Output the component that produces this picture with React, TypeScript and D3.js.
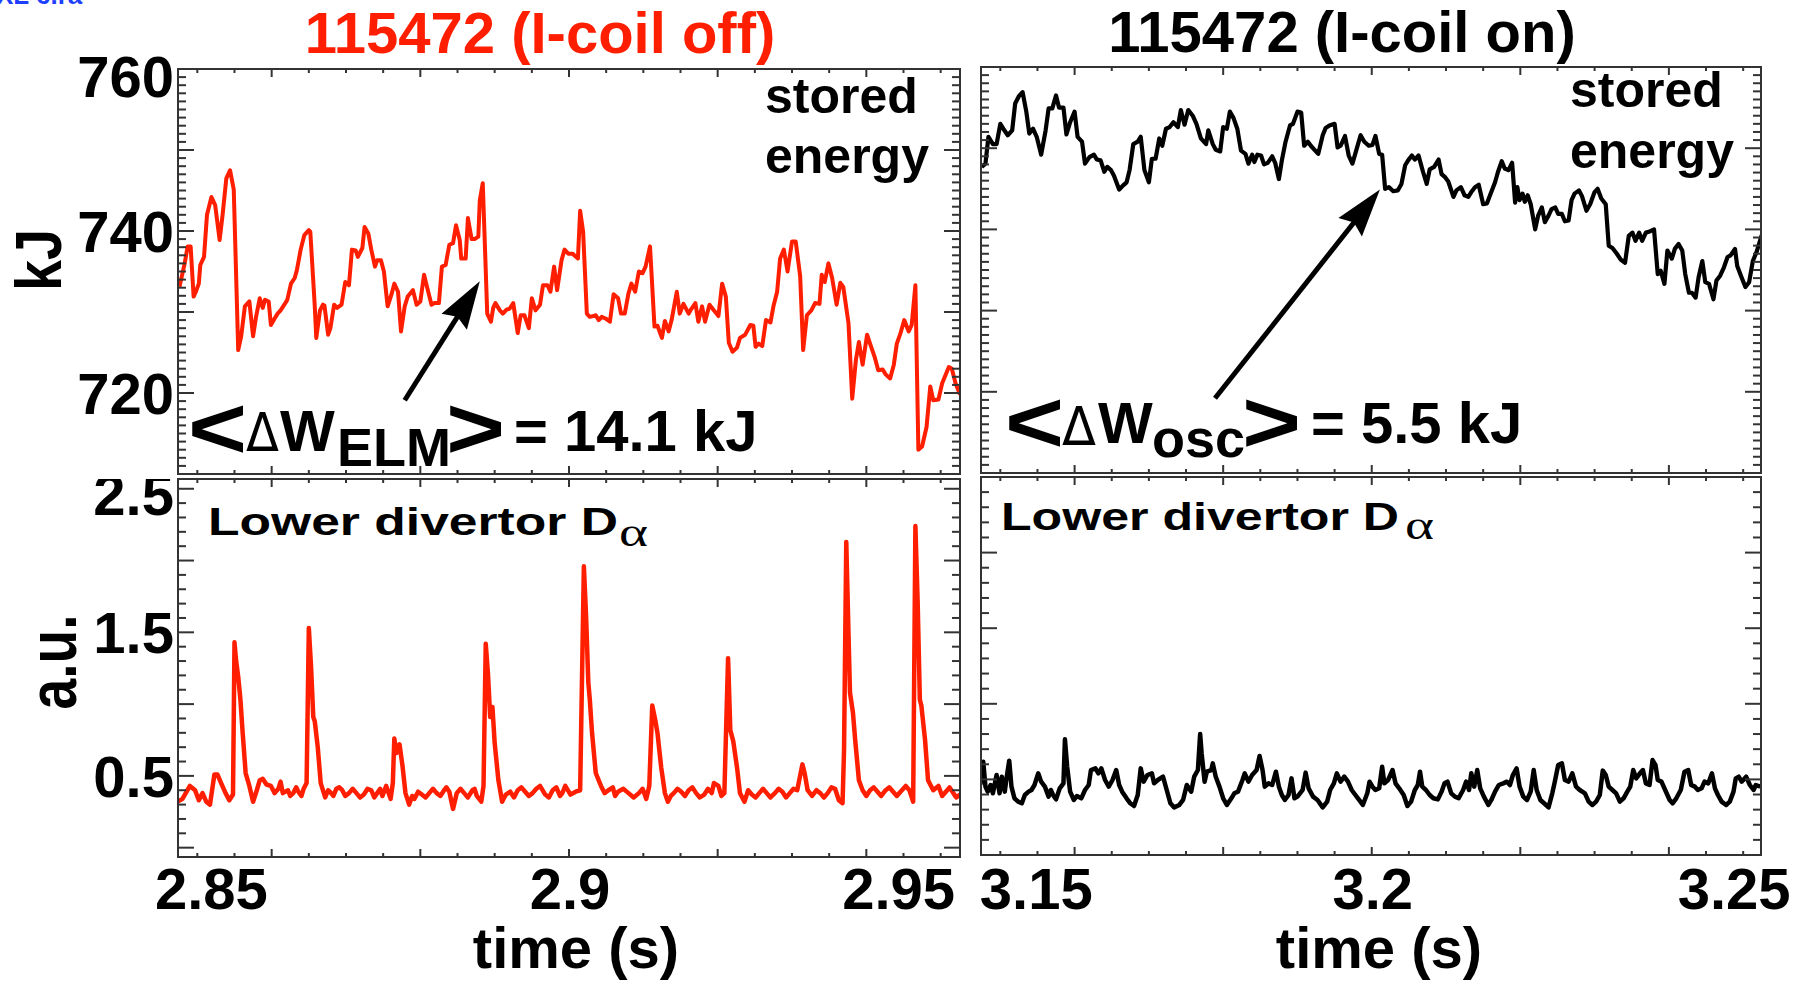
import React, { useEffect } from "react";
import * as d3 from "d3";

type Pt = [number, number];

const FONT = "'Liberation Sans', Arial, Helvetica, sans-serif";
const RED = "#ff1e00";

// stored energy, I-coil off: [time (ms), kJ]
const energyOff: Pt[] = [
  [2847.6, 733.1], [2848.3, 736.0], [2848.7, 738.1], [2849.1, 738.1], [2849.5, 731.9], [2849.8, 732.5],
  [2850.2, 733.5], [2850.4, 735.8], [2850.9, 736.8], [2851.3, 742.0], [2851.9, 744.2], [2852.4, 743.2],
  [2853.0, 738.9], [2853.4, 742.0], [2853.9, 746.5], [2854.4, 747.5], [2854.9, 745.1], [2855.5, 725.3],
  [2855.9, 727.0], [2856.4, 730.7], [2857.0, 731.3], [2857.5, 727.0], [2857.9, 729.4], [2858.4, 731.7],
  [2858.8, 730.5], [2859.1, 731.5], [2859.6, 731.3], [2859.9, 728.4], [2860.4, 729.2], [2860.8, 729.8],
  [2861.2, 730.2], [2861.7, 730.9], [2862.1, 731.5], [2862.6, 733.5], [2863.1, 734.2], [2863.4, 735.2],
  [2863.9, 737.7], [2864.4, 739.5], [2865.0, 740.1], [2865.2, 739.9], [2865.8, 730.7], [2866.0, 726.8],
  [2866.5, 730.2], [2866.9, 730.9], [2867.1, 730.8], [2867.6, 727.2], [2867.9, 728.0], [2868.4, 730.9],
  [2868.8, 730.5], [2869.4, 730.9], [2869.9, 733.7], [2870.4, 733.3], [2870.8, 737.7], [2871.3, 737.6],
  [2871.6, 736.8], [2872.2, 737.9], [2872.5, 740.5], [2873.0, 739.7], [2873.4, 737.7], [2873.9, 735.6],
  [2874.2, 736.4], [2874.7, 736.4], [2875.1, 735.0], [2875.6, 730.7], [2876.1, 732.1], [2876.5, 733.5],
  [2877.0, 732.5], [2877.4, 727.6], [2877.9, 730.7], [2878.3, 731.9], [2879.0, 732.7], [2879.5, 730.9],
  [2880.0, 731.3], [2880.5, 734.6], [2880.9, 733.1], [2881.5, 730.9], [2881.9, 731.1], [2882.5, 731.1],
  [2882.9, 735.6], [2883.4, 735.8], [2883.9, 738.3], [2884.4, 738.5], [2884.8, 740.7], [2885.3, 738.9],
  [2885.5, 736.6], [2886.1, 736.6], [2886.4, 741.6], [2886.9, 739.0], [2887.3, 739.0], [2887.8, 739.3],
  [2888.0, 743.8], [2888.4, 745.9], [2889.0, 729.8], [2889.5, 728.8], [2889.8, 730.5], [2890.1, 731.1],
  [2890.7, 730.2], [2891.1, 729.8], [2891.6, 730.3], [2892.0, 730.4], [2892.5, 731.1], [2893.1, 727.4],
  [2893.5, 729.6], [2894.0, 729.6], [2894.6, 728.0], [2895.0, 731.7], [2895.5, 730.2], [2896.1, 730.9],
  [2896.5, 733.3], [2897.1, 733.3], [2897.5, 732.5], [2898.0, 735.6], [2898.4, 732.7], [2899.0, 736.4],
  [2899.4, 737.7], [2899.9, 737.2], [2900.5, 737.2], [2900.7, 737.0], [2901.2, 736.6], [2901.5, 742.5],
  [2901.9, 739.9], [2902.4, 729.8], [2902.8, 729.4], [2903.3, 729.5], [2903.6, 729.6], [2904.0, 729.0],
  [2904.4, 729.4], [2904.9, 729.2], [2905.5, 728.8], [2906.0, 732.2], [2906.6, 731.7], [2907.0, 729.8],
  [2907.5, 729.8], [2908.0, 732.3], [2908.4, 733.5], [2908.9, 732.5], [2909.4, 735.0], [2909.9, 734.8],
  [2910.3, 735.6], [2910.9, 738.1], [2911.5, 728.2], [2911.9, 728.3], [2912.5, 726.8], [2912.9, 728.9],
  [2913.4, 727.6], [2913.8, 729.0], [2914.5, 732.5], [2914.9, 729.8], [2915.4, 731.0], [2916.1, 729.8],
  [2916.4, 730.3], [2917.0, 731.1], [2917.4, 728.8], [2917.9, 730.7], [2918.3, 728.8], [2918.9, 730.9],
  [2919.4, 730.3], [2920.1, 729.5], [2920.6, 733.5], [2921.1, 731.9], [2921.5, 726.2], [2922.0, 725.1],
  [2922.6, 725.6], [2923.0, 726.8], [2923.7, 727.2], [2924.4, 728.4], [2924.8, 728.3], [2925.1, 725.7],
  [2925.5, 726.1], [2926.0, 725.8], [2926.5, 729.0], [2927.1, 728.7], [2927.5, 730.7], [2928.0, 732.5],
  [2928.4, 736.6], [2928.9, 737.7], [2929.4, 735.0], [2930.0, 738.7], [2930.5, 738.7], [2931.1, 734.4],
  [2931.5, 725.3], [2932.0, 729.6], [2932.6, 730.2], [2933.1, 731.1], [2933.7, 731.0], [2934.0, 734.6],
  [2934.4, 733.7], [2934.9, 736.0], [2935.4, 734.2], [2936.0, 730.9], [2936.5, 733.6], [2936.9, 733.1],
  [2937.6, 728.6], [2938.1, 719.3], [2938.6, 724.1], [2939.0, 726.3], [2939.5, 723.5], [2940.1, 727.2],
  [2940.5, 726.1], [2941.1, 724.5], [2941.6, 722.8], [2942.2, 722.9], [2942.6, 722.3], [2943.2, 721.8],
  [2943.7, 723.5], [2944.1, 726.1], [2944.6, 727.4], [2945.1, 729.0], [2945.7, 727.6], [2946.1, 728.4],
  [2946.6, 733.3], [2947.0, 713.0], [2947.5, 713.4], [2948.1, 715.8], [2948.6, 720.8], [2949.0, 719.1],
  [2949.7, 719.2], [2950.2, 721.2], [2951.1, 723.2], [2951.5, 723.0], [2952.0, 721.2], [2952.6, 719.8],
];

// stored energy, I-coil on: [time (ms), kJ]
const energyOn: Pt[] = [
  [3147.5, 747.7], [3148.0, 748.1], [3148.4, 751.4], [3149.0, 750.5], [3149.5, 750.5], [3150.0, 753.0],
  [3150.4, 752.4], [3151.0, 751.6], [3151.6, 752.2], [3152.0, 755.5], [3152.5, 756.4], [3153.0, 756.9],
  [3153.5, 754.5], [3153.9, 751.8], [3154.4, 752.4], [3154.9, 751.4], [3155.5, 749.2], [3156.1, 752.2],
  [3156.5, 754.9], [3157.0, 754.9], [3157.5, 756.5], [3157.9, 755.0], [3158.5, 755.0], [3158.9, 751.7],
  [3159.4, 753.2], [3160.0, 754.5], [3160.4, 751.4], [3161.0, 750.8], [3161.4, 748.1], [3162.0, 748.9],
  [3162.6, 749.2], [3163.0, 748.6], [3163.5, 748.5], [3164.0, 747.1], [3164.4, 747.7], [3164.9, 747.3],
  [3165.3, 746.6], [3166.0, 744.9], [3166.5, 745.4], [3167.0, 745.8], [3167.4, 747.3], [3167.9, 750.5],
  [3168.5, 750.8], [3168.9, 751.4], [3169.4, 747.3], [3170.0, 745.8], [3170.4, 748.7], [3170.9, 748.7],
  [3171.4, 751.2], [3171.8, 750.3], [3172.3, 752.4], [3172.8, 752.6], [3173.3, 753.2], [3173.9, 752.6],
  [3174.3, 754.7], [3174.8, 752.9], [3175.3, 754.7], [3175.9, 754.0], [3176.4, 753.0], [3177.0, 751.2],
  [3177.7, 750.5], [3178.0, 752.2], [3178.6, 750.5], [3179.0, 749.8], [3179.6, 749.6], [3180.0, 752.6],
  [3180.5, 752.4], [3180.9, 754.5], [3181.4, 753.7], [3181.9, 752.4], [3182.4, 749.7], [3183.0, 749.3],
  [3183.4, 748.1], [3183.9, 749.2], [3184.2, 748.3], [3184.6, 749.2], [3185.1, 749.1], [3185.5, 748.0],
  [3186.0, 748.2], [3186.6, 749.0], [3187.0, 748.2], [3187.5, 746.2], [3187.9, 748.5], [3188.4, 750.8],
  [3189.0, 752.8], [3189.4, 753.0], [3190.0, 754.5], [3190.5, 754.4], [3190.9, 750.3], [3191.4, 750.8],
  [3191.8, 750.3], [3192.3, 749.8], [3192.8, 749.3], [3193.4, 751.6], [3193.8, 752.5], [3194.3, 752.8],
  [3195.0, 753.0], [3195.4, 750.1], [3195.8, 750.3], [3196.4, 751.5], [3196.9, 749.1], [3197.4, 748.1],
  [3198.0, 750.0], [3198.5, 751.6], [3199.0, 750.8], [3199.6, 750.3], [3200.1, 750.4], [3200.5, 751.5],
  [3201.0, 749.3], [3201.4, 749.2], [3201.8, 745.0], [3202.3, 745.2], [3202.9, 744.7], [3203.5, 744.8],
  [3204.0, 745.6], [3204.5, 747.9], [3204.9, 748.5], [3205.4, 749.1], [3205.8, 748.6], [3206.3, 749.1],
  [3206.9, 747.1], [3207.4, 745.6], [3207.8, 747.4], [3208.4, 747.7], [3209.0, 748.6], [3209.4, 746.8],
  [3209.9, 746.4], [3210.3, 745.9], [3211.0, 744.0], [3211.4, 744.8], [3212.0, 745.2], [3212.5, 744.2],
  [3213.0, 744.0], [3213.4, 744.6], [3213.9, 745.2], [3214.4, 745.5], [3215.0, 743.1], [3215.5, 743.2],
  [3216.0, 744.4], [3216.6, 745.8], [3217.0, 747.1], [3217.5, 748.4], [3217.9, 747.5], [3218.4, 747.3],
  [3218.9, 748.2], [3219.3, 743.3], [3219.6, 745.2], [3219.9, 743.6], [3220.3, 744.4], [3220.6, 743.4],
  [3221.0, 744.2], [3221.4, 743.1], [3222.0, 740.0], [3222.4, 741.7], [3222.9, 742.7], [3223.3, 740.9],
  [3223.8, 741.7], [3224.2, 742.5], [3224.7, 742.7], [3225.1, 741.9], [3225.6, 741.9], [3226.0, 741.0],
  [3226.5, 741.1], [3226.9, 743.6], [3227.3, 744.4], [3227.9, 744.8], [3228.3, 744.1], [3228.9, 742.3],
  [3229.4, 743.1], [3230.0, 744.6], [3230.4, 745.0], [3230.9, 743.8], [3231.5, 743.1], [3231.9, 738.0],
  [3232.4, 737.7], [3233.0, 737.0], [3233.5, 736.3], [3234.1, 735.9], [3234.6, 739.2], [3235.1, 739.6],
  [3235.5, 738.6], [3236.0, 739.6], [3236.4, 738.6], [3236.9, 739.6], [3237.3, 739.7], [3238.0, 740.0],
  [3238.5, 734.5], [3238.9, 734.9], [3239.4, 733.3], [3239.8, 737.4], [3240.4, 736.4], [3240.8, 737.6],
  [3241.3, 738.2], [3241.8, 737.4], [3242.2, 734.5], [3242.7, 732.2], [3243.1, 732.2], [3243.6, 731.6],
  [3244.0, 734.1], [3244.5, 736.1], [3244.9, 733.5], [3245.4, 733.3], [3246.0, 731.4], [3246.4, 733.7],
  [3246.9, 734.3], [3247.4, 735.3], [3247.9, 736.6], [3248.3, 736.8], [3248.9, 737.6], [3249.2, 735.5],
  [3249.7, 734.3], [3250.3, 732.9], [3250.8, 733.5], [3251.3, 736.1], [3251.8, 737.2], [3252.5, 739.3],
];

// lower divertor D-alpha, I-coil off: [time (ms), a.u.]
const dalphaOff: Pt[] = [
  [2847.3, 0.32], [2848.0, 0.34], [2849.0, 0.43], [2849.7, 0.40], [2850.2, 0.33], [2850.7, 0.38],
  [2851.2, 0.32], [2851.7, 0.30], [2852.3, 0.51], [2852.7, 0.51], [2853.2, 0.45], [2853.8, 0.38],
  [2854.3, 0.33], [2854.8, 0.37], [2855.0, 1.43], [2855.2, 1.31], [2855.5, 1.19], [2855.8, 1.03],
  [2856.1, 0.80], [2856.5, 0.52], [2857.0, 0.43], [2857.5, 0.32], [2858.0, 0.40], [2858.4, 0.47],
  [2858.8, 0.48], [2859.3, 0.44], [2859.9, 0.43], [2860.4, 0.38], [2860.9, 0.41], [2861.2, 0.46],
  [2861.5, 0.38], [2862.2, 0.40], [2862.5, 0.36], [2862.9, 0.38], [2863.3, 0.42], [2863.6, 0.39],
  [2864.0, 0.36], [2864.3, 0.41], [2864.7, 0.45], [2865.0, 1.53], [2865.3, 1.26], [2865.6, 0.91],
  [2865.8, 0.88], [2866.2, 0.70], [2866.6, 0.45], [2867.2, 0.35], [2867.6, 0.40], [2868.0, 0.38],
  [2868.3, 0.36], [2868.7, 0.41], [2869.1, 0.42], [2869.5, 0.40], [2869.9, 0.36], [2870.4, 0.38],
  [2870.9, 0.41], [2871.4, 0.38], [2871.9, 0.35], [2872.4, 0.37], [2872.9, 0.41], [2873.4, 0.40],
  [2873.8, 0.35], [2874.2, 0.38], [2874.6, 0.41], [2874.9, 0.36], [2875.4, 0.43], [2876.0, 0.34],
  [2876.3, 0.45], [2876.5, 0.76], [2876.8, 0.66], [2877.2, 0.72], [2877.6, 0.57], [2878.0, 0.38],
  [2878.5, 0.30], [2878.9, 0.36], [2879.2, 0.34], [2879.7, 0.39], [2880.2, 0.37], [2880.7, 0.35],
  [2881.2, 0.38], [2881.7, 0.41], [2882.2, 0.38], [2882.7, 0.36], [2883.2, 0.40], [2883.5, 0.42],
  [2883.9, 0.39], [2884.4, 0.27], [2884.9, 0.38], [2885.4, 0.41], [2885.9, 0.38], [2886.4, 0.35],
  [2887.0, 0.40], [2887.3, 0.41], [2887.6, 0.36], [2888.2, 0.32], [2888.5, 0.43], [2888.8, 1.42],
  [2889.1, 1.21], [2889.4, 0.91], [2889.7, 0.98], [2890.0, 0.73], [2890.5, 0.47], [2891.0, 0.32],
  [2891.5, 0.37], [2892.1, 0.39], [2892.6, 0.35], [2893.1, 0.40], [2893.6, 0.42], [2894.1, 0.39],
  [2894.6, 0.36], [2895.1, 0.38], [2895.6, 0.41], [2896.1, 0.43], [2896.8, 0.37], [2897.3, 0.35],
  [2897.8, 0.40], [2898.3, 0.42], [2898.8, 0.36], [2899.1, 0.38], [2899.5, 0.43], [2900.2, 0.37],
  [2900.9, 0.39], [2901.5, 0.40], [2902.0, 1.96], [2902.3, 1.61], [2902.6, 1.15], [2902.8, 1.03],
  [2903.1, 0.80], [2903.6, 0.52], [2904.3, 0.43], [2904.8, 0.38], [2905.3, 0.40], [2905.9, 0.42],
  [2906.2, 0.36], [2906.6, 0.39], [2907.3, 0.41], [2908.0, 0.38], [2908.7, 0.35], [2909.4, 0.38],
  [2909.9, 0.41], [2910.4, 0.34], [2910.8, 0.43], [2911.2, 0.99], [2911.6, 0.89], [2911.9, 0.80],
  [2912.4, 0.56], [2912.9, 0.38], [2913.3, 0.32], [2913.7, 0.36], [2914.1, 0.38], [2914.6, 0.41],
  [2915.1, 0.39], [2915.6, 0.36], [2916.1, 0.40], [2916.6, 0.42], [2917.1, 0.38], [2917.6, 0.35],
  [2918.2, 0.37], [2918.7, 0.41], [2919.2, 0.38], [2919.5, 0.45], [2920.1, 0.43], [2920.5, 0.36],
  [2920.9, 0.38], [2921.4, 1.32], [2921.7, 0.82], [2922.1, 0.74], [2922.6, 0.56], [2923.0, 0.38],
  [2923.6, 0.32], [2924.1, 0.40], [2924.6, 0.37], [2925.1, 0.35], [2925.6, 0.38], [2926.1, 0.41],
  [2926.6, 0.38], [2927.1, 0.35], [2927.7, 0.38], [2928.2, 0.41], [2928.7, 0.39], [2929.2, 0.35],
  [2929.7, 0.38], [2930.2, 0.41], [2930.7, 0.40], [2931.4, 0.58], [2931.7, 0.52], [2932.1, 0.40],
  [2932.7, 0.36], [2933.3, 0.40], [2933.8, 0.38], [2934.3, 0.35], [2934.8, 0.38], [2935.3, 0.42],
  [2935.8, 0.41], [2936.3, 0.33], [2936.8, 0.31], [2937.0, 0.68], [2937.3, 2.13], [2937.6, 1.49],
  [2937.8, 1.08], [2938.2, 0.94], [2938.5, 0.75], [2939.0, 0.47], [2939.5, 0.40], [2940.0, 0.36],
  [2940.5, 0.40], [2941.0, 0.42], [2941.5, 0.39], [2942.0, 0.36], [2942.6, 0.40], [2943.1, 0.42],
  [2943.6, 0.39], [2944.1, 0.36], [2944.6, 0.39], [2945.3, 0.43], [2945.8, 0.40], [2946.3, 0.32],
  [2946.6, 2.24], [2946.9, 1.72], [2947.2, 1.03], [2947.4, 0.99], [2947.9, 0.75], [2948.3, 0.47],
  [2949.0, 0.40], [2949.7, 0.43], [2950.2, 0.36], [2950.7, 0.39], [2951.2, 0.42], [2951.7, 0.38],
  [2952.1, 0.35], [2952.6, 0.37],
];

// lower divertor D-alpha, I-coil on: [time (ms), a.u.]
const dalphaOn: Pt[] = [
  [3147.3, 0.463], [3147.7, 0.617], [3148.0, 0.452], [3148.3, 0.419], [3148.7, 0.463], [3149.0, 0.408],
  [3149.5, 0.529], [3149.9, 0.408], [3150.2, 0.518], [3150.6, 0.419], [3150.8, 0.496], [3151.2, 0.624],
  [3151.5, 0.452], [3151.9, 0.375], [3152.4, 0.353], [3152.9, 0.342], [3153.3, 0.397], [3153.8, 0.419],
  [3154.2, 0.430], [3154.6, 0.463], [3155.1, 0.540], [3155.5, 0.485], [3156.0, 0.452], [3156.5, 0.386],
  [3156.8, 0.430], [3157.1, 0.397], [3157.5, 0.368], [3158.0, 0.441], [3158.5, 0.474], [3158.7, 0.765],
  [3159.0, 0.584], [3159.4, 0.419], [3159.9, 0.364], [3160.3, 0.390], [3160.9, 0.375], [3161.4, 0.430],
  [3161.9, 0.463], [3162.2, 0.562], [3162.8, 0.573], [3163.2, 0.540], [3163.6, 0.573], [3164.1, 0.496],
  [3164.6, 0.452], [3165.1, 0.496], [3165.6, 0.562], [3166.0, 0.463], [3166.4, 0.419], [3167.0, 0.375],
  [3167.5, 0.342], [3168.0, 0.324], [3168.5, 0.397], [3168.9, 0.573], [3169.3, 0.485], [3169.8, 0.529],
  [3170.4, 0.540], [3170.7, 0.474], [3171.2, 0.496], [3171.9, 0.518], [3172.4, 0.430], [3172.9, 0.342],
  [3173.4, 0.315], [3174.1, 0.331], [3174.6, 0.364], [3175.1, 0.463], [3175.7, 0.419], [3176.1, 0.518],
  [3176.6, 0.562], [3176.9, 0.800], [3177.1, 0.672], [3177.5, 0.485], [3177.8, 0.551], [3178.4, 0.562],
  [3178.6, 0.606], [3179.0, 0.518], [3179.5, 0.452], [3180.0, 0.375], [3180.5, 0.331], [3181.1, 0.375],
  [3181.5, 0.408], [3182.0, 0.419], [3182.6, 0.496], [3182.9, 0.540], [3183.4, 0.485], [3183.9, 0.529],
  [3184.5, 0.562], [3184.9, 0.655], [3185.3, 0.562], [3185.6, 0.452], [3186.1, 0.474], [3186.6, 0.463],
  [3187.1, 0.551], [3187.5, 0.452], [3187.9, 0.397], [3188.3, 0.364], [3188.8, 0.397], [3189.2, 0.507],
  [3189.6, 0.375], [3190.0, 0.386], [3190.7, 0.430], [3191.1, 0.545], [3191.5, 0.441], [3192.1, 0.386],
  [3192.7, 0.364], [3193.4, 0.315], [3194.0, 0.353], [3194.4, 0.430], [3194.9, 0.474], [3195.3, 0.540],
  [3195.8, 0.485], [3196.3, 0.518], [3196.8, 0.485], [3197.3, 0.430], [3197.8, 0.397], [3198.3, 0.364],
  [3198.8, 0.331], [3199.4, 0.408], [3199.7, 0.485], [3200.1, 0.452], [3200.5, 0.430], [3201.0, 0.441],
  [3201.4, 0.584], [3201.7, 0.474], [3202.2, 0.496], [3202.8, 0.562], [3203.2, 0.474], [3203.7, 0.441],
  [3204.3, 0.397], [3204.8, 0.324], [3205.3, 0.353], [3205.8, 0.430], [3206.2, 0.463], [3206.5, 0.551],
  [3206.8, 0.452], [3207.3, 0.430], [3207.8, 0.397], [3208.3, 0.375], [3208.9, 0.368], [3209.4, 0.419],
  [3209.8, 0.474], [3210.2, 0.485], [3210.7, 0.408], [3211.2, 0.386], [3211.7, 0.375], [3212.3, 0.430],
  [3212.7, 0.485], [3213.1, 0.430], [3213.4, 0.540], [3213.8, 0.452], [3214.2, 0.562], [3214.6, 0.441],
  [3215.1, 0.386], [3215.7, 0.331], [3216.1, 0.364], [3216.6, 0.419], [3217.1, 0.463], [3217.7, 0.474],
  [3218.2, 0.485], [3218.6, 0.463], [3219.0, 0.529], [3219.5, 0.573], [3219.9, 0.452], [3220.4, 0.386],
  [3220.9, 0.364], [3221.4, 0.419], [3221.8, 0.562], [3222.2, 0.430], [3222.7, 0.364], [3223.2, 0.342],
  [3223.8, 0.315], [3224.3, 0.408], [3224.6, 0.474], [3225.1, 0.595], [3225.6, 0.606], [3226.0, 0.496],
  [3226.5, 0.485], [3227.0, 0.540], [3227.5, 0.452], [3228.0, 0.430], [3228.7, 0.408], [3229.2, 0.353],
  [3229.7, 0.331], [3230.2, 0.353], [3230.7, 0.397], [3231.1, 0.558], [3231.5, 0.529], [3231.9, 0.452],
  [3232.4, 0.430], [3232.9, 0.408], [3233.4, 0.353], [3233.9, 0.375], [3234.4, 0.419], [3234.8, 0.452],
  [3235.2, 0.562], [3235.6, 0.507], [3236.1, 0.540], [3236.5, 0.562], [3236.9, 0.474], [3237.4, 0.463],
  [3237.8, 0.628], [3238.2, 0.595], [3238.5, 0.496], [3239.0, 0.485], [3239.5, 0.430], [3240.1, 0.364],
  [3240.5, 0.342], [3241.0, 0.375], [3241.6, 0.430], [3242.1, 0.551], [3242.6, 0.562], [3243.0, 0.463],
  [3243.5, 0.452], [3243.9, 0.430], [3244.4, 0.441], [3244.8, 0.485], [3245.3, 0.474], [3245.8, 0.540],
  [3246.2, 0.441], [3246.6, 0.397], [3247.1, 0.353], [3247.7, 0.331], [3248.2, 0.353], [3248.7, 0.419],
  [3249.0, 0.507], [3249.4, 0.518], [3249.8, 0.485], [3250.4, 0.518], [3250.9, 0.463], [3251.4, 0.430],
  [3251.7, 0.463], [3252.3, 0.452],
];

const timeRangeOff: Pt = [2847.4, 2952.6];
const timeRangeOn: Pt = [3147.4, 3252.4];
const energyRange: Pt = [710, 760];
const dalphaRangeOff: Pt = [-0.065, 2.568];
const dalphaRangeOn: Pt = [0, 2.5];

const energyLabels = [760, 740, 720];
const dalphaLabels = [2.5, 1.5, 0.5];
const timeLabelsOff = [2850, 2900, 2950];
const timeLabelsOn = [3150, 3200, 3250];
// the tick labels in the original were placed by hand, not exactly on the ticks
const timeNudgeOff = [14, 1, -42];
const timeNudgeOn = [36, 1, -9];

// annotation arrows: tail, tip (ms, kJ)
const arrowOff: Pt[] = [[2877.9, 719.1], [2888.0, 733.8]];
const arrowOn: Pt[] = [[3178.9, 719.2], [3201.1, 744.9]];

type Scale = d3.ScaleLinear<number, number>;

function tickList(domain: Pt, step: number, every: number) {
  const i0 = Math.ceil(domain[0] / step - 1e-6);
  const i1 = Math.floor(domain[1] / step + 1e-6);
  return d3.range(i0, i1 + 1).map((i) => ({ v: i * step, major: Math.abs(i) % every === 0 }));
}

function Panel({ id, x, y, data, color, width, yStep, yEvery }: {
  id: string; x: Scale; y: Scale; data: Pt[]; color: string; width: number; yStep: number; yEvery: number;
}) {
  const [x0, x1] = x.range();
  const [y1, y0] = y.range();
  const line = d3.line<Pt>().x((d) => x(d[0])).y((d) => y(d[1]));
  const xt = tickList(x.domain() as Pt, 5, 4);
  const yt = tickList(y.domain() as Pt, yStep, yEvery);
  const tc = "#333";
  return (
    <g>
      <defs>
        <clipPath id={id}>
          <rect x={x0} y={y0} width={x1 - x0} height={y1 - y0} />
        </clipPath>
      </defs>
      <path d={line(data) || ""} fill="none" stroke={color} strokeWidth={width}
        strokeLinejoin="round" clipPath={`url(#${id})`} />
      {xt.map((t, i) => {
        const px = x(t.v);
        const len = t.major ? 8 : 4;
        return (
          <g key={"x" + i} stroke={tc} strokeWidth={2}>
            <line x1={px} x2={px} y1={y1} y2={y1 - len} />
            <line x1={px} x2={px} y1={y0} y2={y0 + len} />
          </g>
        );
      })}
      {yt.map((t, i) => {
        const py = y(t.v);
        const len = t.major ? 16 : 8;
        return (
          <g key={"y" + i} stroke={tc} strokeWidth={2}>
            <line x1={x0} x2={x0 + len} y1={py} y2={py} />
            <line x1={x1} x2={x1 - len} y1={py} y2={py} />
          </g>
        );
      })}
      <rect x={x0} y={y0} width={x1 - x0} height={y1 - y0} fill="none" stroke={tc} strokeWidth={2} />
    </g>
  );
}

function Arrow({ pts, x, y }: { pts: Pt[]; x: Scale; y: Scale }) {
  const ax = x(pts[0][0]), ay = y(pts[0][1]);
  const bx = x(pts[1][0]), by = y(pts[1][1]);
  const len = Math.hypot(bx - ax, by - ay);
  const ux = (bx - ax) / len, uy = (by - ay) / len;
  const head = 48, half = 15;
  const hx = bx - ux * head, hy = by - uy * head;
  const poly = [
    [bx, by],
    [hx - uy * half, hy + ux * half],
    [hx + ux * 6, hy + uy * 6],
    [hx + uy * half, hy - ux * half],
  ].map((p) => p.join(",")).join(" ");
  return (
    <g>
      <line x1={ax} y1={ay} x2={hx + ux * 8} y2={hy + uy * 8} stroke="#000" strokeWidth={5} />
      <polygon points={poly} fill="#000" />
    </g>
  );
}

function YLabels({ y, values, top, pad }: { y: Scale; values: number[]; top: number; pad: number }) {
  return (
    <g fontSize={58} fontWeight="bold" textAnchor="end">
      {values.map((v) => (
        <text key={v} x={174} y={Math.max(y(v), top + pad) + 21}>{String(v)}</text>
      ))}
    </g>
  );
}

function XLabels({ x, values, nudge }: { x: Scale; values: number[]; nudge: number[] }) {
  return (
    <g fontSize={58} fontWeight="bold" textAnchor="middle">
      {values.map((v, i) => (
        <text key={v} x={x(v) + nudge[i]} y={909}>{String(v / 1000)}</text>
      ))}
    </g>
  );
}

export default function App() {
  useEffect(() => {
    document.body.style.margin = "0";
  }, []);

  const xOff = d3.scaleLinear().domain(timeRangeOff).range([178, 960]);
  const xOn = d3.scaleLinear().domain(timeRangeOn).range([981, 1761]);
  const yWOff = d3.scaleLinear().domain(energyRange).range([474, 69]);
  const yWOn = d3.scaleLinear().domain(energyRange).range([473, 67]);
  const yDOff = d3.scaleLinear().domain(dalphaRangeOff).range([857, 479]);
  const yDOn = d3.scaleLinear().domain(dalphaRangeOn).range([855, 477]);

  const deltaFont = "'DejaVu Sans', 'Liberation Sans', sans-serif";

  return (
    <svg width={1810} height={984} style={{ display: "block", background: "#fff" }}
      fontFamily={FONT}>
      <rect width={1810} height={984} fill="#fff" />
      <text x={-4} y={4} fill="#1f3fff" fontSize={26} fontWeight="bold">XL 6.ra</text>

      {/* titles */}
      <text x={540} y={53} fill={RED} fontSize={58} fontWeight="bold" textAnchor="middle">
        115472 (I-coil off)
      </text>
      <text x={1342} y={52} fill="#000" fontSize={58} fontWeight="bold" textAnchor="middle">
        115472 (I-coil on)
      </text>

      <Panel id="c1" x={xOff} y={yWOff} data={energyOff} color={RED} width={4} yStep={1} yEvery={10} />
      <Panel id="c2" x={xOn} y={yWOn} data={energyOn} color="#000" width={4.2} yStep={1} yEvery={10} />
      <Panel id="c3" x={xOff} y={yDOff} data={dalphaOff} color={RED} width={4.5} yStep={0.1} yEvery={5} />
      <Panel id="c4" x={xOn} y={yDOn} data={dalphaOn} color="#000" width={4.5} yStep={0.1} yEvery={5} />

      <YLabels y={yWOff} values={energyLabels} top={69} pad={7} />
      <defs>
        <clipPath id="lab2">
          <rect x={0} y={479} width={178} height={400} />
        </clipPath>
      </defs>
      <g clipPath="url(#lab2)">
        <YLabels y={yDOff} values={dalphaLabels} top={479} pad={15} />
      </g>
      <XLabels x={xOff} values={timeLabelsOff} nudge={timeNudgeOff} />
      <XLabels x={xOn} values={timeLabelsOn} nudge={timeNudgeOn} />

      <g fontSize={58} fontWeight="bold" textAnchor="middle">
        <text x={576} y={968}>time (s)</text>
        <text x={1379} y={968}>time (s)</text>
        <text transform="translate(61,260) rotate(-90)" fontSize={64} textLength={62}
          lengthAdjust="spacingAndGlyphs">kJ</text>
        <text transform="translate(76,662) rotate(-90)" fontSize={68} textLength={95}
          lengthAdjust="spacingAndGlyphs">a.u.</text>
      </g>

      {/* panel labels */}
      <g fontSize={50} fontWeight="bold">
        <text x={765} y={113}>stored</text>
        <text x={765} y={173}>energy</text>
        <text x={1570} y={107}>stored</text>
        <text x={1570} y={168}>energy</text>
      </g>
      <g fontWeight="bold">
        <text x={208} y={535} fontSize={38} textLength={410} lengthAdjust="spacingAndGlyphs">
          Lower divertor D
        </text>
        <text x={1001} y={530} fontSize={38} textLength={398} lengthAdjust="spacingAndGlyphs">
          Lower divertor D
        </text>
      </g>
      <g fontFamily="'Liberation Serif', 'Times New Roman', serif" fontSize={40}>
        <text x={619} y={546} textLength={29} lengthAdjust="spacingAndGlyphs">α</text>
        <text x={1405} y={539} textLength={29} lengthAdjust="spacingAndGlyphs">α</text>
      </g>

      {/* ELM size annotations */}
      <Arrow pts={arrowOff} x={xOff} y={yWOff} />
      <Arrow pts={arrowOn} x={xOn} y={yWOn} />
      <g fontWeight="bold">
        <text transform="translate(188,458) scale(1.15,1)" fontSize={88}>&lt;</text>
        <text x={246} y={451} fontSize={54} fontWeight="normal" fontFamily={deltaFont}
          textLength={33} lengthAdjust="spacingAndGlyphs">{"\u0394"}</text>
        <text x={280} y={451} fontSize={58}>W</text>
        <text x={337} y={466} fontSize={54}>ELM</text>
        <text transform="translate(446,458) scale(1.15,1)" fontSize={88}>&gt;</text>
        <text x={514} y={451} fontSize={58}>= 14.1 kJ</text>

        <text transform="translate(1005,452) scale(1.15,1)" fontSize={88}>&lt;</text>
        <text x={1062} y={445} fontSize={54} fontWeight="normal" fontFamily={deltaFont}
          textLength={34} lengthAdjust="spacingAndGlyphs">{"\u0394"}</text>
        <text x={1098} y={443} fontSize={58}>W</text>
        <text x={1152} y={457} fontSize={54}>osc</text>
        <text transform="translate(1242,452) scale(1.15,1)" fontSize={88}>&gt;</text>
        <text x={1311} y={443} fontSize={58}>= 5.5 kJ</text>
      </g>
    </svg>
  );
}
